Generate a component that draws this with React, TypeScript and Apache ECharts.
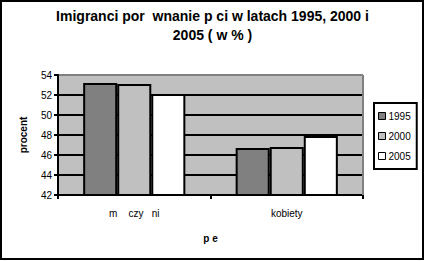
import React, { useEffect, useRef } from "react";
import * as echarts from "echarts";

const categories = ["m    czy   ni", "kobiety"];
const seriesNames = ["1995", "2000", "2005"];
const values1995 = [53.2, 46.7];
const values2000 = [53.1, 46.8];
const values2005 = [52.1, 47.9];
const colors = ["#808080", "#C0C0C0", "#FFFFFF"];
const titleLines = ["Imigranci por  wnanie p ci w latach 1995, 2000 i", "2005 ( w % )"];
const yName = "procent";
const xName = "p e";

const FONT = "'Liberation Sans', Arial, sans-serif";

export default function App() {
  const ref = useRef<HTMLDivElement>(null);
  useEffect(() => {
    if (!ref.current) return;
    const chart = echarts.init(ref.current, undefined, { renderer: "svg" });
    const data = [values1995, values2000, values2005];
    chart.setOption({
      animation: false,
      backgroundColor: "#FFFFFF",
      textStyle: { fontFamily: FONT, color: "#000" },
      title: titleLines.map((t, i) => ({
        text: t,
        left: "center",
        top: 9 + i * 19,
        padding: 0,
        textStyle: { fontFamily: FONT, fontSize: 14, fontWeight: "bold", color: "#000" },
      })),
      legend: {
        orient: "vertical",
        left: 374,
        top: 103,
        width: 40,
        padding: [8, 6, 8, 4],
        itemGap: 10,
        itemWidth: 7,
        itemHeight: 7,
        borderColor: "#000",
        borderWidth: 2,
        backgroundColor: "#FFFFFF",
        icon: "rect",
        data: seriesNames,
        textStyle: { fontFamily: FONT, fontSize: 10, color: "#000", padding: [0, 0, 0, -2] },
        itemStyle: { borderColor: "#000", borderWidth: 1 },
      },
      grid: {
        left: 58,
        right: 62,
        top: 75,
        bottom: 66,
        show: true,
        backgroundColor: "#C0C0C0",
        borderColor: "#808080",
        borderWidth: 0,
      },
      xAxis: {
        type: "category",
        data: categories,
        name: xName,
        nameLocation: "middle",
        nameGap: 38,
        nameTextStyle: { fontFamily: FONT, fontSize: 10, fontWeight: "bold", color: "#000" },
        axisLine: { lineStyle: { color: "#000", width: 2 } },
        axisTick: { show: true, length: 4, lineStyle: { color: "#000", width: 2 } },
        axisLabel: { fontFamily: FONT, fontSize: 10, color: "#000", margin: 13 },
      },
      yAxis: {
        type: "value",
        min: 42,
        max: 54,
        interval: 2,
        name: yName,
        nameLocation: "middle",
        nameGap: 30,
        nameRotate: 90,
        nameTextStyle: { fontFamily: FONT, fontSize: 10, fontWeight: "bold", color: "#000" },
        axisLine: { show: true, lineStyle: { color: "#000", width: 2 } },
        axisTick: { show: true, length: 4, lineStyle: { color: "#000", width: 2 } },
        axisLabel: { fontFamily: FONT, fontSize: 10, color: "#000", margin: 6 },
        splitLine: {
          show: true,
          lineStyle: {
            color: ["#000", "#000", "#000", "#000", "#000", "#000", "#808080"],
            width: 2,
          },
        },
      },
      graphic: [
        {
          type: "line",
          shape: { x1: 363, y1: 75, x2: 363, y2: 195 },
          style: { stroke: "#808080", lineWidth: 2 },
          z: 1,
        },
        {
          type: "rect",
          shape: { x: 1, y: 1, width: 422, height: 258 },
          style: { fill: "none", stroke: "#000", lineWidth: 2 },
          z: 100,
        },
      ],
      series: seriesNames.map((name, i) => ({
        name,
        type: "bar",
        data: data[i],
        barGap: "0%",
        barCategoryGap: "33%",
        itemStyle: { color: colors[i], borderColor: "#000", borderWidth: 2 },
        z: 3,
      })),
    });
    return () => chart.dispose();
  }, []);
  return (
    <div
      ref={ref}
      style={{ position: "fixed", left: 0, top: 0, width: 425, height: 261 }}
    />
  );
}
